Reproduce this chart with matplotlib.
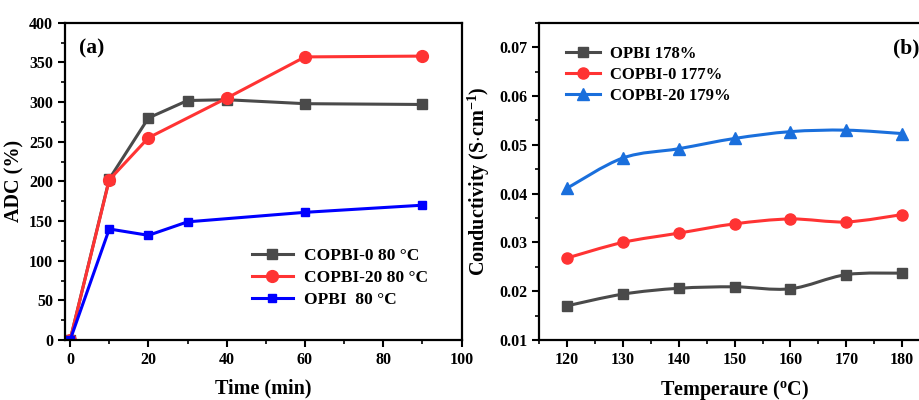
import matplotlib
matplotlib.use("Agg")
import matplotlib.pyplot as plt
from matplotlib.path import Path
from matplotlib.patches import PathPatch
from matplotlib.ticker import MultipleLocator
from matplotlib.lines import Line2D

plt.rcParams['font.family'] = ['Liberation Serif', 'DejaVu Serif']
plt.rcParams['font.weight'] = 'bold'
plt.rcParams['mathtext.fontset'] = 'custom'
plt.rcParams['mathtext.rm'] = 'Liberation Serif:bold'
plt.rcParams['mathtext.it'] = 'Liberation Serif:bold'
plt.rcParams['mathtext.bf'] = 'Liberation Serif:bold'
plt.rcParams['mathtext.default'] = 'bf'

# (a) acid doping content vs soaking time
time_copbi0 = [0, 10, 20, 30, 40, 60, 90]
adc_copbi0 = [0, 203, 280, 302, 303, 298, 297]
time_copbi20 = [0, 10, 20, 40, 60, 90]
adc_copbi20 = [0, 202, 255, 305, 357, 358]
time_opbi = [0, 10, 20, 30, 60, 90]
adc_opbi = [0, 140, 132, 149, 161, 170]

# (b) conductivity vs temperature
temps = [120, 130, 140, 150, 160, 170, 180]
cond_opbi = [0.0170, 0.0194, 0.0206, 0.0209, 0.0205, 0.0234, 0.0237]
cond_copbi0 = [0.0268, 0.0300, 0.0319, 0.0338, 0.0348, 0.0342, 0.0357]
cond_copbi20 = [0.0411, 0.0473, 0.0492, 0.0513, 0.0527, 0.0530, 0.0523]

GRAY = '#4a4a4a'
RED = '#ff3333'
BLUE = '#0000ff'
LBLUE = '#1a6fdc'


def smooth_path(xs, ys):
    # Catmull-Rom spline through the points as cubic Bezier segments
    verts = [(xs[0], ys[0])]
    codes = [Path.MOVETO]
    n = len(xs)
    for i in range(n - 1):
        x0, y0 = (xs[i - 1], ys[i - 1]) if i > 0 else (xs[i], ys[i])
        x1, y1 = xs[i], ys[i]
        x2, y2 = xs[i + 1], ys[i + 1]
        x3, y3 = (xs[i + 2], ys[i + 2]) if i + 2 < n else (x2, y2)
        c1 = (x1 + (x2 - x0) / 6, y1 + (y2 - y0) / 6)
        c2 = (x2 - (x3 - x1) / 6, y2 - (y3 - y1) / 6)
        verts += [c1, c2, (x2, y2)]
        codes += [Path.CURVE4] * 3
    return Path(verts, codes)


def style_axes(ax):
    for s in ax.spines.values():
        s.set_linewidth(1.6)
    ax.tick_params(which='major', direction='out', length=5, width=1.5, labelsize=11.5)
    ax.tick_params(which='minor', direction='out', length=3, width=1.2)
    for lab in ax.get_xticklabels() + ax.get_yticklabels():
        lab.set_fontweight('bold')


fig = plt.figure(figsize=(9.2, 4.0), dpi=100)

ax1 = fig.add_axes([0.0707, 0.15, 0.431, 0.793])
ax1.plot(time_copbi0, adc_copbi0, '-s', color=GRAY, lw=2.2, ms=7.5, label='COPBI-0 80 °C')
ax1.plot(time_copbi20, adc_copbi20, '-o', color=RED, lw=2.2, ms=8.5, label='COPBI-20 80 °C')
ax1.plot(time_opbi, adc_opbi, '-s', color=BLUE, lw=2.2, ms=5.5, label='OPBI  80 °C')
ax1.set_xlim(-1.3, 100)
ax1.set_ylim(0, 400)
ax1.xaxis.set_major_locator(MultipleLocator(20))
ax1.xaxis.set_minor_locator(MultipleLocator(10))
ax1.yaxis.set_major_locator(MultipleLocator(50))
ax1.yaxis.set_minor_locator(MultipleLocator(25))
ax1.set_xlabel('Time (min)', fontsize=14.5, fontweight='bold', labelpad=8)
ax1.set_ylabel('ADC (%)', fontsize=14.5, fontweight='bold', labelpad=3)
ax1.text(0.035, 0.95, '(a)', transform=ax1.transAxes, fontsize=15.5, fontweight='bold', va='top')
ax1.legend(loc='upper left', bbox_to_anchor=(0.44, 0.33), frameon=False, fontsize=12.5,
           handlelength=2.4, handletextpad=0.6, labelspacing=0.35, borderpad=0.2)
style_axes(ax1)

ax2 = fig.add_axes([0.586, 0.15, 0.425, 0.793])
handles = []
for ys, col, mk, ms, lab in [(cond_opbi, GRAY, 's', 7.5, 'OPBI 178%'),
                             (cond_copbi0, RED, 'o', 8.0, 'COPBI-0 177%'),
                             (cond_copbi20, LBLUE, '^', 8.5, 'COPBI-20 179%')]:
    ax2.add_patch(PathPatch(smooth_path(temps, ys), fill=False, edgecolor=col, lw=2.2))
    ax2.plot(temps, ys, linestyle='none', marker=mk, color=col, ms=ms)
    handles.append(Line2D([], [], color=col, lw=2.2, marker=mk, ms=ms, label=lab))
ax2.set_xlim(115, 185)
ax2.set_ylim(0.01, 0.075)
ax2.xaxis.set_major_locator(MultipleLocator(10))
ax2.xaxis.set_minor_locator(MultipleLocator(5))
ax2.yaxis.set_major_locator(MultipleLocator(0.01))
ax2.yaxis.set_minor_locator(MultipleLocator(0.005))
ax2.set_xlabel('Temperaure ($^{o}$C)', fontsize=14.5, fontweight='bold', labelpad=7)
ax2.set_ylabel('Conductivity (S$\\cdot$cm$^{-1}$)', fontsize=14.5, fontweight='bold', labelpad=5)
ax2.text(0.905, 0.95, '(b)', transform=ax2.transAxes, fontsize=15.5, fontweight='bold', va='top')
ax2.legend(handles=handles, loc='upper left', bbox_to_anchor=(0.04, 0.965), frameon=False,
           fontsize=12, handlelength=2.0, handletextpad=0.6, labelspacing=0.3, borderpad=0.2)
style_axes(ax2)

fig.savefig('out.png', dpi=100)
